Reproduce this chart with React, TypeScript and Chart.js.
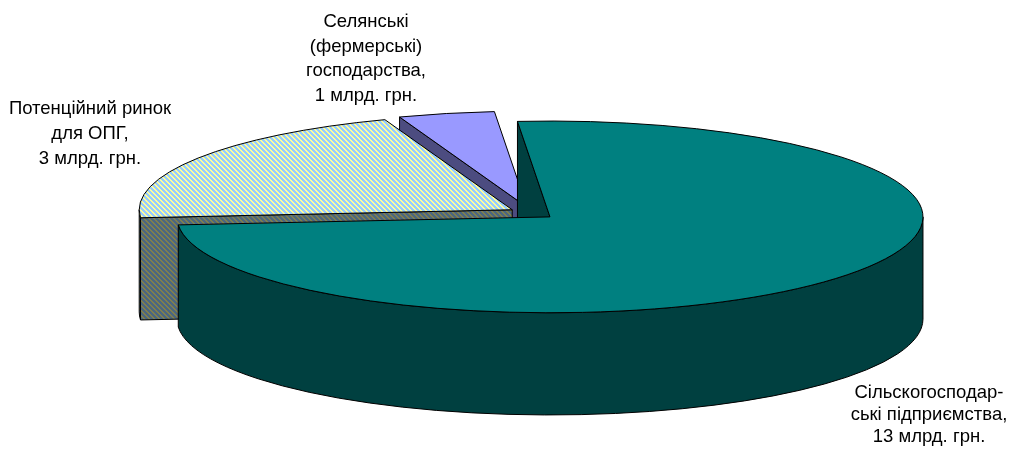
import React, { useEffect, useRef } from 'react';
import { Chart, registerables } from 'chart.js';

Chart.register(...registerables);

// ---- data ----
const categories = [
  'Сільскогосподар-\nські підприємства,\n13 млрд. грн.',
  'Потенційний ринок\nдля ОПГ,\n3 млрд. грн.',
  'Селянські\n(фермерські)\nгосподарства,\n1 млрд. грн.',
];
const values = [13, 3.6, 0.72];

// ---- styles ----
const TILT = 0.257; // ellipse ry / rx
const DEPTH = 0.274; // extrusion depth / rx
const EXPLODE = 23.5;
const RADIUS = 373;
const ROTATION = -5;
const topSolid = ['#008080', null, '#9999FF'];
const sideSolid = ['#004040', null, '#4C4C80'];
const stripeTop = ['#99CCFF', '#FFFF99'];
const stripeSide = ['#4C6680', '#80804C'];
const labelStyle = [
  { x: 929, y: 393, lh: 22 },
  { x: 90, y: 109, lh: 25 },
  { x: 366, y: 22, lh: 24.7 },
];
const FONT = '18.5px "Liberation Sans", Arial, sans-serif';

function makeStripes(ctx: CanvasRenderingContext2D, bg: string, fg: string) {
  const n = 5;
  const c = document.createElement('canvas');
  c.width = n;
  c.height = n;
  const g = c.getContext('2d')!;
  g.fillStyle = bg;
  g.fillRect(0, 0, n, n);
  g.fillStyle = fg;
  for (let y = 0; y < n; y++) {
    for (let x = 0; x < n; x++) {
      const d = (((x - y) % n) + n) % n;
      if (d === 0 || d === 1) g.fillRect(x, y, 1, 1);
    }
  }
  return ctx.createPattern(c, 'repeat')!;
}

function frontIntervals(a0: number, a1: number) {
  const out: [number, number][] = [];
  for (let k = -3; k <= 3; k++) {
    const s = Math.max(a0, 2 * Math.PI * k);
    const e = Math.min(a1, 2 * Math.PI * k + Math.PI);
    if (e > s) out.push([s, e]);
  }
  return out;
}

const pie3d = {
  id: 'pie3d',
  beforeDatasetsDraw(chart: any) {
    const ctx: CanvasRenderingContext2D = chart.ctx;
    const meta = chart.getDatasetMeta(0);
    const ds: any = chart.data.datasets[0];
    const items = meta.data
      .map((arc: any, i: number) => {
        const { x, y, startAngle, endAngle, outerRadius } = arc;
        const mid = (startAngle + endAngle) / 2;
        const off = arc.options.offset || 0;
        const rx = outerRadius;
        const ry = outerRadius * TILT;
        const D = outerRadius * DEPTH;
        return {
          i,
          cx: x + Math.cos(mid) * off,
          cy: y + Math.sin(mid) * off * TILT,
          rx,
          ry,
          D,
          a0: startAngle,
          a1: endAngle,
          mid,
          top: arc.options.backgroundColor,
          side: ds.sideColor[i],
        };
      })
      .sort((a: any, b: any) => Math.sin(a.mid) - Math.sin(b.mid));

    ctx.save();
    ctx.lineWidth = 1;
    ctx.strokeStyle = '#000';
    ctx.lineJoin = 'round';
    for (const it of items) {
      const { cx, cy, rx, ry, D, a0, a1 } = it;
      const P = (a: number) => [cx + rx * Math.cos(a), cy + ry * Math.sin(a)];
      // radial faces
      const faces: number[] = [];
      if (Math.cos(a0) < 0) faces.push(a0);
      if (Math.cos(a1) > 0) faces.push(a1);
      for (const a of faces) {
        const [px, py] = P(a);
        ctx.beginPath();
        ctx.moveTo(cx, cy);
        ctx.lineTo(px, py);
        ctx.lineTo(px, py + D);
        ctx.lineTo(cx, cy + D);
        ctx.closePath();
        ctx.fillStyle = it.side;
        ctx.fill();
        ctx.stroke();
      }
      // outer wall
      for (const [b0, b1] of frontIntervals(a0, a1)) {
        ctx.beginPath();
        ctx.ellipse(cx, cy, rx, ry, 0, b0, b1, false);
        ctx.ellipse(cx, cy + D, rx, ry, 0, b1, b0, true);
        ctx.closePath();
        ctx.fillStyle = it.side;
        ctx.fill();
        ctx.stroke();
      }
      // top face
      ctx.beginPath();
      ctx.moveTo(cx, cy);
      ctx.ellipse(cx, cy, rx, ry, 0, a0, a1, false);
      ctx.closePath();
      ctx.fillStyle = it.top;
      ctx.fill();
      ctx.stroke();
    }
    ctx.restore();
    return false;
  },
  afterDraw(chart: any) {
    const ctx: CanvasRenderingContext2D = chart.ctx;
    ctx.save();
    ctx.font = FONT;
    ctx.fillStyle = '#000';
    ctx.textAlign = 'center';
    ctx.textBaseline = 'middle';
    (chart.data.labels as string[]).forEach((lab, i) => {
      const st = labelStyle[i];
      lab.split('\n').forEach((line, j) => {
        ctx.fillText(line, st.x, st.y + j * st.lh);
      });
    });
    ctx.restore();
  },
};

export default function App() {
  const ref = useRef<HTMLCanvasElement>(null);
  useEffect(() => {
    document.body.style.margin = '0';
    const canvas = ref.current!;
    const ctx = canvas.getContext('2d')!;
    const hatchTop = makeStripes(ctx, stripeTop[0], stripeTop[1]);
    const hatchSide = makeStripes(ctx, stripeSide[0], stripeSide[1]);
    const tops = topSolid.map((c) => c ?? hatchTop);
    const sides = sideSolid.map((c) => c ?? hatchSide);
    const chart = new Chart(canvas, {
      type: 'pie',
      data: {
        labels: categories,
        datasets: [
          {
            data: values,
            backgroundColor: tops as any,
            sideColor: sides,
            offset: EXPLODE,
            borderWidth: 0,
          } as any,
        ],
      },
      options: {
        responsive: false,
        animation: false,
        events: [],
        rotation: ROTATION,
        radius: RADIUS,
        layout: { padding: { left: 159, right: 112, top: 0, bottom: 25 } },
        plugins: {
          legend: { display: false },
          tooltip: { enabled: false },
        },
      } as any,
      plugins: [pie3d as any],
    });
    return () => chart.destroy();
  }, []);
  return (
    <div style={{ position: 'fixed', left: 0, top: 0, width: 1017, height: 451, background: '#fff' }}>
      <canvas ref={ref} width={1017} height={451} style={{ display: 'block' }} />
    </div>
  );
}
